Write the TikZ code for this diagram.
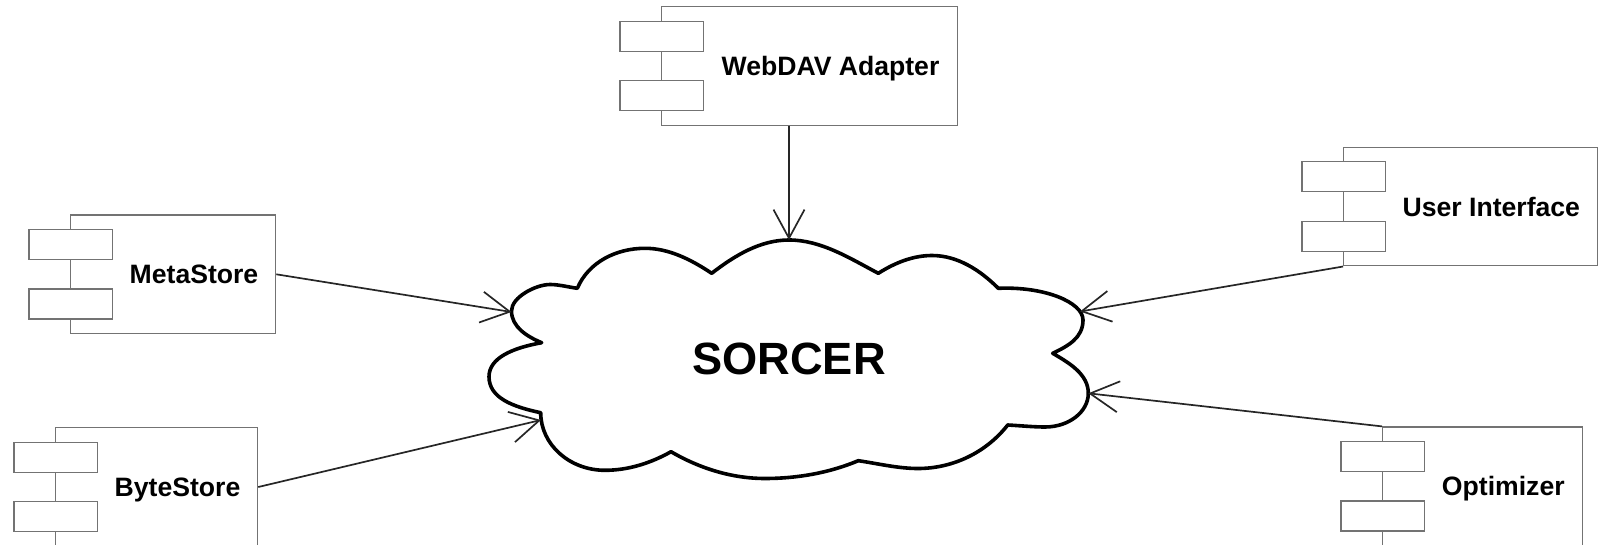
\documentclass[tikz,border=0pt]{standalone}
\usepackage{fontspec}
\setmainfont{Liberation Sans}
\usetikzlibrary{arrows.meta,fit}
\tikzset{
  compbox/.style={draw=black!55, line width=0.6pt, fill=white, inner sep=0pt, rectangle},
  portbox/.style={draw=black!55, line width=0.6pt, fill=white, inner sep=0pt, rectangle},
  lbl/.style={font=\bfseries\fontsize{13.3}{16}\selectfont, inner sep=0pt, anchor=base},
  bigtxt/.style={font=\bfseries\fontsize{22.6}{27}\selectfont, inner sep=0pt},
  conn/.style={draw=black!85, line width=0.85pt, -{Straight Barb[length=14.3pt,width=15.5pt]}},
  cloudline/.style={draw=black, line width=1.8pt, line join=round}
}
% name, left, top, right, label
\newcommand\umlcomp[5]{%
  \node[compbox, fit={({#2},{#3}) ({#4},{#3+118.6})}] (#1) {};
  \node[portbox, fit={({#2-41.7},{#3+14.6}) ({#2+41.6},{#3+44.6})}] (#1-p1) {};
  \node[portbox, fit={({#2-41.7},{#3+74}) ({#2+41.6},{#3+104})}] (#1-p2) {};
  \node[lbl] (#1-t) at ({(#2+41.6+#4)/2},{#3+59.3+9.5}) {#5};
}
\begin{document}
\begin{tikzpicture}[x=0.5pt,y=-0.5pt]
\useasboundingbox (0,0) rectangle (1600,545);
\clip (0,0) rectangle (1600,545);

% cloud
\draw[cloudline]
  (577.3,288.3) .. controls (588.5,262.0) and (616.4,248.3) .. (645,248.3)
  .. controls (669.3,248.3) and (691.5,259.9) .. (711.7,273.3)
  .. controls (734.5,255.7) and (760.1,240) .. (789,240)
  .. controls (821.2,240) and (849.8,258.3) .. (878.3,273.3)
  .. controls (894.5,263) and (912.8,255.5) .. (932,255.5)
  .. controls (957.6,255.5) and (980.2,270.2) .. (998.3,288.3)
  .. controls (1045.1,286.3) and (1083,302.5) .. (1083,320)
  .. controls (1083,338) and (1068,346) .. (1052.7,353.3)
  .. controls (1069.2,362.9) and (1088.3,374.2) .. (1088.3,393.3)
  .. controls (1088.3,411.9) and (1068.9,427) .. (1045,427)
  .. controls (1033,427) and (1019.7,425.6) .. (1007.7,425)
  .. controls (986.2,452.5) and (952.9,468.5) .. (918,468.5)
  .. controls (898,468.5) and (878.1,463.6) .. (858.3,460.7)
  .. controls (828.9,473) and (796.9,478.5) .. (765,478.5)
  .. controls (731.9,478.5) and (699.6,468.4) .. (671,451.7)
  .. controls (650.8,463.1) and (628.2,470.3) .. (605,470.3)
  .. controls (569.5,470.3) and (540.7,444.5) .. (540.7,412.7)
  .. controls (512.2,406.7) and (489,397.7) .. (489,376.7)
  .. controls (489,357.9) and (512.6,347.9) .. (541.7,342.7)
  .. controls (527,336.6) and (511.5,326.9) .. (511.5,311)
  .. controls (511.5,297) and (536,284.5) .. (550,284.5)
  .. controls (559,284.5) and (568.4,287.1) .. (577.3,288.3)
  -- cycle;
\node[bigtxt] (sorcer) at (789,359) {SORCER};

\coordinate (tipW) at (789,240);
\coordinate (tipM) at (511.5,312);
\coordinate (tipB) at (541,420);
\coordinate (tipU) at (1080,311.5);
\coordinate (tipO) at (1088.3,393.3);

% components
\umlcomp{web}{661.7}{6.7}{957.7}{WebDAV Adapter}
\umlcomp{meta}{70.7}{215}{275.7}{MetaStore}
\umlcomp{byte}{55.7}{427.7}{257.7}{ByteStore}
\umlcomp{ui}{1343.7}{147.3}{1597.3}{User Interface}
\umlcomp{opt}{1382.7}{427}{1582.3}{Optimizer}

% connectors
\draw[conn] (web.south -| tipW) -- (tipW);
\draw[conn] (meta.east) -- (tipM);
\draw[conn] (byte.east) -- (tipB);
\draw[conn] (ui.south west) -- (tipU);
\draw[conn] (opt.north west) -- (tipO);
\end{tikzpicture}
\end{document}
